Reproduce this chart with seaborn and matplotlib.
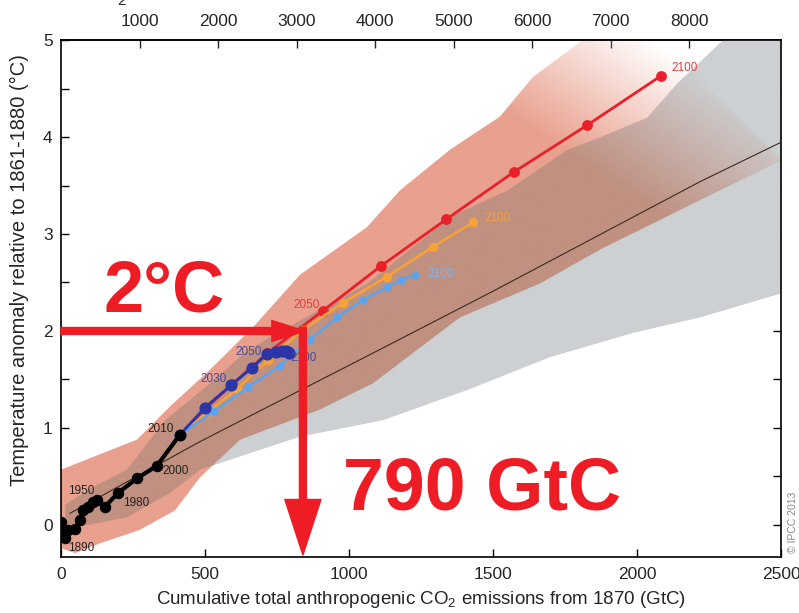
import numpy as np
import matplotlib
matplotlib.use("Agg")
import matplotlib.pyplot as plt
import seaborn as sns
from matplotlib.path import Path

# --- data (GtC, degC) ---
hist_x = [0, 14, 24, 49, 66, 76, 94, 111, 125, 153, 198, 264, 333, 413]
hist_y = [0.03, -0.13, -0.05, -0.04, 0.05, 0.15, 0.19, 0.24, 0.26, 0.19, 0.33, 0.48, 0.61, 0.93]

rcp26_x = [413, 500, 590, 663, 715, 748, 768, 780, 787, 790]
rcp26_y = [0.93, 1.21, 1.44, 1.62, 1.76, 1.78, 1.79, 1.79, 1.78, 1.77]

rcp45_x = [413, 530, 650, 760, 865, 958, 1049, 1132, 1180, 1229]
rcp45_y = [0.93, 1.17, 1.42, 1.64, 1.91, 2.14, 2.32, 2.45, 2.53, 2.58]

rcp60_x = [413, 510, 610, 720, 840, 979, 1132, 1292, 1431]
rcp60_y = [0.93, 1.16, 1.40, 1.70, 2.01, 2.29, 2.56, 2.87, 3.12]

rcp85_x = [413, 505, 595, 715, 910, 1111, 1337, 1573, 1826, 2083]
rcp85_y = [0.93, 1.21, 1.45, 1.77, 2.21, 2.67, 3.15, 3.64, 4.12, 4.63]

# 1% per year CO2 runs, multi-model mean
mean_x = [31, 483, 1049, 1500, 2219, 2503]
mean_y = [0.12, 0.86, 1.72, 2.41, 3.54, 3.95]

# RCP plume (red) edges
rcp_up_x = [0, 170, 264, 378, 517, 667, 830, 1062, 1177, 1351, 1524, 1639, 1812, 1941]
rcp_up_y = [0.57, 0.77, 0.88, 1.22, 1.60, 2.04, 2.58, 3.07, 3.45, 3.87, 4.21, 4.62, 5.00, 5.41]
rcp_lo_x = [0, 49, 135, 274, 396, 483, 622, 899, 1083, 1385, 1663, 1872, 2219, 2503]
rcp_lo_y = [-0.24, -0.29, -0.19, -0.05, 0.15, 0.49, 0.88, 1.19, 1.46, 2.14, 2.49, 2.84, 3.35, 3.76]

# 1% CO2 runs plume (grey) edges
one_up_x = [14, 111, 229, 361, 517, 646, 830, 1063, 1351, 1549, 1757, 1872, 2035, 2139, 2299, 2503]
one_up_y = [0.21, 0.39, 0.57, 1.08, 1.46, 1.80, 2.11, 2.49, 3.18, 3.45, 3.87, 4.00, 4.20, 4.55, 5.00, 5.57]
one_lo_x = [14, 229, 378, 483, 830, 1118, 1410, 1698, 1986, 2219, 2503]
one_lo_y = [-0.05, 0.08, 0.33, 0.57, 0.91, 1.08, 1.39, 1.73, 1.98, 2.14, 2.39]

top_ticks = [1000, 2000, 3000, 4000, 5000, 6000, 7000, 8000, 9000]
top_labels = ["1000", "2000", "3000", "4000", "5000", "6000", "7000", "8000", ""]

year_labels = [
    ("1890", 24, -0.24, "#222222"), ("1950", 24, 0.35, "#222222"),
    ("1980", 215, 0.23, "#222222"), ("2000", 354, 0.56, "#222222"),
    ("2010", 300, 0.99, "#222222"), ("2030", 485, 1.51, "#4a4a9a"),
    ("2050", 605, 1.78, "#4a4a9a"), ("2100", 795, 1.72, "#4a4a9a"),
    ("2050", 808, 2.27, "#e04040"), ("2100", 1472, 3.17, "#f5a040"),
    ("2100", 1271, 2.59, "#7ab5f0"), ("2100", 2121, 4.71, "#e04040"),
]

sns.set_theme(style="ticks")
plt.rcParams["font.family"] = ["Liberation Sans", "DejaVu Sans"]
plt.rcParams["mathtext.default"] = "regular"

fig = plt.figure(figsize=(7.99, 6.13), dpi=100)
ax = fig.add_axes([0.0763, 0.0914, 0.9012, 0.8433])

XMIN, XMAX, YMIN, YMAX = 0, 2500, -0.33, 5

gray = "#cdd0d3"
salmon = np.array([233, 160, 142]) / 255
brown = np.array([192, 144, 128]) / 255

# grey plume
one_vx = np.r_[one_up_x, one_lo_x[::-1]]
one_vy = np.r_[one_up_y, one_lo_y[::-1]]
ax.fill(one_vx, one_vy, color=gray, lw=0, zorder=1)

# red plume, fading out at high emissions
rcp_vx = np.r_[rcp_up_x, rcp_lo_x[::-1]]
rcp_vy = np.r_[rcp_up_y, rcp_lo_y[::-1]]
rcp_patch = ax.fill(rcp_vx, rcp_vy, color="none", lw=0, zorder=2)[0]

gx = np.linspace(XMIN, XMAX, 1440)
gy = np.linspace(YMIN, YMAX, 1040)
GX, GY = np.meshgrid(gx, gy)
fade = np.clip((1.82 - (GX / 2500 + GY / 5)) / 0.35, 0, 1)
inside_gray = Path(np.c_[one_vx, one_vy]).contains_points(np.c_[GX.ravel(), GY.ravel()]).reshape(GX.shape)
img = np.zeros(GX.shape + (4,))
img[..., :3] = np.where(inside_gray[..., None], brown, salmon)
img[..., 3] = fade
im = ax.imshow(img, extent=[XMIN, XMAX, YMIN, YMAX], origin="lower", aspect="auto",
               interpolation="bilinear", zorder=2)
im.set_clip_path(rcp_patch)

# mean line
sns.lineplot(x=mean_x, y=mean_y, ax=ax, color="#3a2a22", lw=0.8, sort=False, estimator=None, zorder=3)

# scenario lines
sns.lineplot(x=rcp85_x, y=rcp85_y, ax=ax, color="#e8202a", lw=2, marker="o", markersize=7,
             mec="#e8202a", sort=False, estimator=None, zorder=4)
sns.lineplot(x=rcp60_x, y=rcp60_y, ax=ax, color="#f7a235", lw=1.8, marker="o", markersize=6,
             mec="#f7a235", sort=False, estimator=None, zorder=5)
sns.lineplot(x=rcp45_x, y=rcp45_y, ax=ax, color="#5aa5ee", lw=1.8, marker="o", markersize=5,
             mec="#5aa5ee", sort=False, estimator=None, zorder=6)
sns.lineplot(x=rcp26_x, y=rcp26_y, ax=ax, color="#2b35a8", lw=2, marker="o", markersize=8,
             mec="#2b35a8", sort=False, estimator=None, zorder=7)
sns.lineplot(x=hist_x, y=hist_y, ax=ax, color="black", lw=3, marker="o", markersize=7.5,
             mec="black", sort=False, estimator=None, zorder=8)

for txt, x, y, c in year_labels:
    ax.text(x, y, txt, fontsize=8.5, color=c, ha="left", va="center", zorder=9)

# 2 degC / 790 GtC arrows and text
red = "#ee1c25"
ax.annotate("", xy=(848, 2.0), xytext=(0, 2.0),
            arrowprops=dict(width=5, headwidth=15, headlength=24, color=red, shrink=0), zorder=10)
ax.annotate("", xy=(840, -0.31), xytext=(840, 2.04),
            arrowprops=dict(width=5, headwidth=26, headlength=40, color=red, shrink=0), zorder=10)
ax.text(146, 2.20, "2°C", fontsize=52, fontweight="bold", color=red, ha="left", va="baseline", zorder=11)
ax.text(979, 0.155, "790 GtC", fontsize=53, fontweight="bold", color=red, ha="left", va="baseline", zorder=11)

ax.set_xlim(XMIN, XMAX)
ax.set_ylim(YMIN, YMAX)
ax.set_xticks([0, 500, 1000, 1500, 2000, 2500])
ax.set_yticks([0, 1, 2, 3, 4, 5])
ax.set_yticks([0.5, 1.5, 2.5, 3.5, 4.5], minor=True)
ax.tick_params(axis="both", which="both", direction="in", length=6, width=1, color="black",
               labelsize=12.5, left=True, right=True, bottom=True)
ax.tick_params(axis="x", pad=7)
ax.tick_params(axis="y", pad=6)
for s in ax.spines.values():
    s.set_visible(True)
    s.set_color("black")
    s.set_linewidth(1.2)

sec = ax.secondary_xaxis("top", functions=(lambda v: v * 3.667, lambda v: v / 3.667))
sec.set_xticks(top_ticks)
sec.set_xticklabels(top_labels)
sec.tick_params(direction="in", length=6, width=1, labelsize=12.5, pad=8)

ax.set_xlabel("Cumulative total anthropogenic CO$_2$ emissions from 1870 (GtC)", fontsize=13.5, labelpad=5)
ax.set_ylabel("Temperature anomaly relative to 1861-1880 (°C)", fontsize=14.5)
ax.yaxis.set_label_coords(-0.045, 0.555)

fig.text(0.993, 0.098, "© IPCC 2013", rotation=90, fontsize=7.5, color="#888888", ha="center", va="bottom")
fig.text(121 / 799, 1 - 5 / 613, "2", fontsize=11, ha="center", va="baseline")

fig.savefig("out.png", dpi=100)
